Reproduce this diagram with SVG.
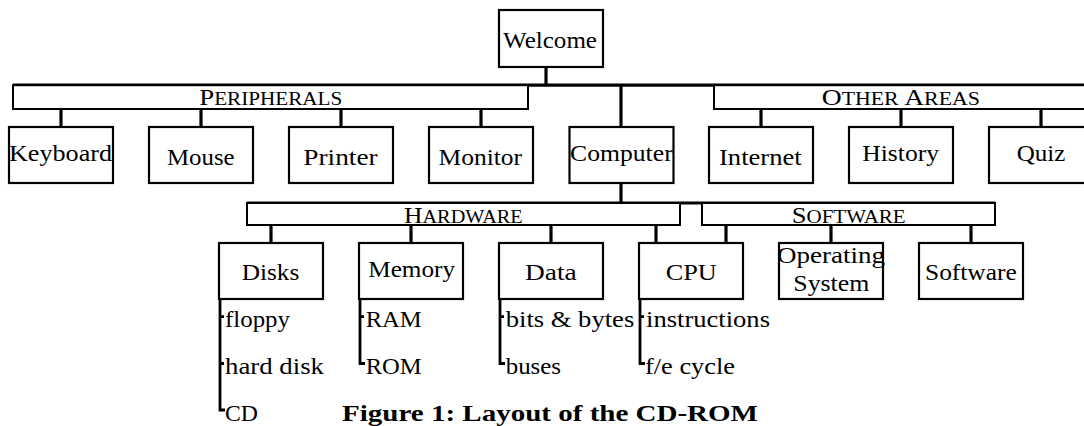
<svg xmlns="http://www.w3.org/2000/svg" width="1084" height="426" viewBox="0 0 1084 426">
<style>
  .box { fill: #fff; stroke: #000; stroke-width: 2.2; }
  .bar { fill: #fff; stroke: #000; stroke-width: 2; }
  .bus { fill: none; stroke: #000; stroke-width: 3.2; stroke-linecap: butt; }
  .sub { fill: none; stroke: #000; stroke-width: 2.8; }
  .t { font-family: "Liberation Serif", serif; font-size: 24px; fill: #000; }
  .small { font-size: 19px; }
  .cap { font-family: "Liberation Serif", serif; font-size: 24px; font-weight: bold; fill: #000; }
</style>
<rect x="0" y="0" width="1084" height="426" fill="#fff"/>

<g id="connectors">
  <line class="bus" x1="546" y1="67" x2="546" y2="85"/>
  <line class="bus" x1="13" y1="85.2" x2="1084" y2="85.2"/>
  <line class="bus" x1="621" y1="85" x2="621" y2="127"/>
  <line class="bus" x1="61" y1="109" x2="61" y2="127"/>
  <line class="bus" x1="201" y1="109" x2="201" y2="127"/>
  <line class="bus" x1="341" y1="109" x2="341" y2="127"/>
  <line class="bus" x1="481" y1="109" x2="481" y2="127"/>
  <line class="bus" x1="761" y1="109" x2="761" y2="127"/>
  <line class="bus" x1="901" y1="109" x2="901" y2="127"/>
  <line class="bus" x1="1041" y1="109" x2="1041" y2="127"/>
  <line class="bus" x1="621" y1="183" x2="621" y2="203"/>
  <line class="bus" x1="247" y1="203" x2="995" y2="203"/>
  <line class="bus" x1="271" y1="225" x2="271" y2="243"/>
  <line class="bus" x1="411" y1="225" x2="411" y2="243"/>
  <line class="bus" x1="551" y1="225" x2="551" y2="243"/>
  <line class="bus" x1="656" y1="225" x2="656" y2="243"/>
  <line class="bus" x1="726" y1="225" x2="726" y2="243"/>
  <line class="bus" x1="831" y1="225" x2="831" y2="243"/>
  <line class="bus" x1="971" y1="225" x2="971" y2="243"/>
  <path class="sub" d="M220,299 V410 H225 M220,316.7 H224 M220,363.5 H224"/>
  <path class="sub" d="M360,299 V363.5 H365 M360,316.7 H364"/>
  <path class="sub" d="M500,299 V363.5 H505 M500,316.7 H504"/>
  <path class="sub" d="M640,299 V363.5 H645 M640,316.7 H644"/>
</g>

<g id="welcome">
  <rect class="box" x="499" y="10" width="104" height="57"/>
  <text class="t" x="503" y="48.3" textLength="94" lengthAdjust="spacingAndGlyphs">Welcome</text>
</g>

<g id="peripherals">
  <rect class="bar" x="13" y="85.2" width="515" height="23.8"/>
  <text class="t" x="199.3" y="105" textLength="143" lengthAdjust="spacingAndGlyphs">P<tspan class="small">ERIPHERALS</tspan></text>
</g>

<g id="other-areas">
  <rect class="bar" x="714" y="85.2" width="400" height="23.8"/>
  <text class="t" x="821.7" y="105" textLength="158.3" lengthAdjust="spacingAndGlyphs">O<tspan class="small">THER </tspan>A<tspan class="small">REAS</tspan></text>
</g>

<g id="keyboard">
  <rect class="box" x="9" y="127" width="104" height="56"/>
  <text class="t" x="9" y="160.8" textLength="103" lengthAdjust="spacingAndGlyphs">Keyboard</text>
</g>
<g id="mouse">
  <rect class="box" x="149" y="127" width="104" height="56"/>
  <text class="t" x="167" y="164.6" textLength="67.6" lengthAdjust="spacingAndGlyphs">Mouse</text>
</g>
<g id="printer">
  <rect class="box" x="289" y="127" width="104" height="56"/>
  <text class="t" x="303.3" y="164.6" textLength="74.4" lengthAdjust="spacingAndGlyphs">Printer</text>
</g>
<g id="monitor">
  <rect class="box" x="429" y="127" width="104" height="56"/>
  <text class="t" x="438.6" y="164.6" textLength="83.5" lengthAdjust="spacingAndGlyphs">Monitor</text>
</g>
<g id="computer">
  <rect class="box" x="569.5" y="127" width="104" height="56"/>
  <text class="t" x="570" y="160.8" textLength="102.7" lengthAdjust="spacingAndGlyphs">Computer</text>
</g>
<g id="internet">
  <rect class="box" x="709" y="127" width="104" height="56"/>
  <text class="t" x="719" y="164.6" textLength="82.7" lengthAdjust="spacingAndGlyphs">Internet</text>
</g>
<g id="history">
  <rect class="box" x="849" y="127" width="104" height="56"/>
  <text class="t" x="862.3" y="160.8" textLength="76.7" lengthAdjust="spacingAndGlyphs">History</text>
</g>
<g id="quiz">
  <rect class="box" x="989" y="127" width="104" height="56"/>
  <text class="t" x="1016.7" y="160.8" textLength="48.7" lengthAdjust="spacingAndGlyphs">Quiz</text>
</g>

<g id="hardware">
  <rect class="bar" x="247" y="203" width="433" height="22"/>
  <text class="t" x="404" y="222.7" textLength="118.7" lengthAdjust="spacingAndGlyphs">H<tspan class="small">ARDWARE</tspan></text>
</g>
<g id="software-group">
  <rect class="bar" x="702" y="203" width="293" height="22"/>
  <text class="t" x="791.7" y="222.7" textLength="114" lengthAdjust="spacingAndGlyphs">S<tspan class="small">OFTWARE</tspan></text>
</g>

<g id="disks">
  <rect class="box" x="219" y="243" width="104" height="56"/>
  <text class="t" x="241.7" y="279.6" textLength="57.7" lengthAdjust="spacingAndGlyphs">Disks</text>
  <text class="t" x="225" y="327" textLength="65" lengthAdjust="spacingAndGlyphs">floppy</text>
  <text class="t" x="225" y="374" textLength="99" lengthAdjust="spacingAndGlyphs">hard disk</text>
  <text class="t" x="225" y="420.5" textLength="33" lengthAdjust="spacingAndGlyphs">CD</text>
</g>
<g id="memory">
  <rect class="box" x="359" y="243" width="104" height="56"/>
  <text class="t" x="368.3" y="276.5" textLength="86.7" lengthAdjust="spacingAndGlyphs">Memory</text>
  <text class="t" x="365.7" y="327" textLength="56" lengthAdjust="spacingAndGlyphs">RAM</text>
  <text class="t" x="365.7" y="374" textLength="56" lengthAdjust="spacingAndGlyphs">ROM</text>
</g>
<g id="data">
  <rect class="box" x="499" y="243" width="104" height="56"/>
  <text class="t" x="525" y="279.6" textLength="51.7" lengthAdjust="spacingAndGlyphs">Data</text>
  <text class="t" x="505.7" y="327" textLength="128.6" lengthAdjust="spacingAndGlyphs">bits &amp; bytes</text>
  <text class="t" x="505.7" y="374" textLength="55.3" lengthAdjust="spacingAndGlyphs">buses</text>
</g>
<g id="cpu">
  <rect class="box" x="639" y="243" width="104" height="56"/>
  <text class="t" x="665.7" y="279.6" textLength="51" lengthAdjust="spacingAndGlyphs">CPU</text>
  <text class="t" x="646" y="327" textLength="124" lengthAdjust="spacingAndGlyphs">instructions</text>
  <text class="t" x="645" y="374" textLength="90" lengthAdjust="spacingAndGlyphs">f/e cycle</text>
</g>
<g id="operating-system">
  <rect class="box" x="779" y="243" width="104" height="56"/>
  <text class="t" x="777" y="263.3" textLength="108" lengthAdjust="spacingAndGlyphs">Operating</text>
  <text class="t" x="793.3" y="290.7" textLength="76" lengthAdjust="spacingAndGlyphs">System</text>
</g>
<g id="software">
  <rect class="box" x="919" y="243" width="104" height="56"/>
  <text class="t" x="925" y="279.6" textLength="91.7" lengthAdjust="spacingAndGlyphs">Software</text>
</g>

<g id="caption">
  <text class="cap" x="342" y="420.5" textLength="416" lengthAdjust="spacingAndGlyphs">Figure 1: Layout of the CD-ROM</text>
</g>
</svg>
